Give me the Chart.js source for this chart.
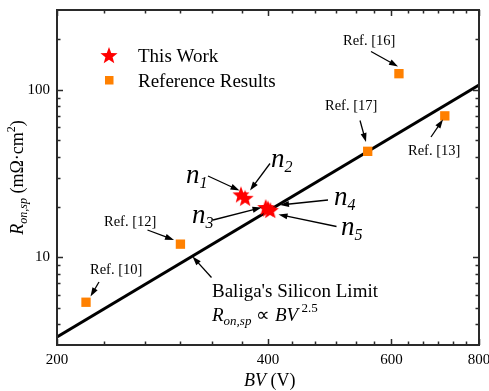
<!DOCTYPE html>
<html>
<head>
<meta charset="utf-8">
<script src="https://cdn.jsdelivr.net/npm/chart.js@4.4.1/dist/chart.umd.min.js"></script>
<style>
  body { margin: 0; background: #fff; }
  #wrap { width: 489px; height: 391px; }
</style>
</head>
<body>
<div id="wrap"><canvas id="ronChart" width="489" height="391"></canvas></div>
<script>
// Données : Ron,sp en fonction de la tension de claquage BV
const bvWork = [366, 371, 397, 400, 403];
const ronWork = [23.8, 22.7, 20.0, 19.6, 19.2];

const bvRef = [220, 300, 555, 615, 715];
const ronRef = [5.4, 12, 43, 125, 70];

// Limite silicium de Baliga (Ron,sp ∝ BV^2.5), extrémités de la droite
const limitBV = [200, 800];
const limitRon = [3.35, 107];

// Graduations des axes
const xMajor = [200, 400, 600, 800];
const yMajor = [10, 100];
const xMinor = [];
for (let v = 200; v < 800; v += 200) {
    for (let k = 1; k < 6; k++) xMinor.push(v + k * 200 / 6);
}
const yMinor = [4, 5, 6, 7, 8, 9, 20, 30, 40, 50, 60, 70, 80, 90, 200];

const SERIF = "'Liberation Serif', 'Times New Roman', serif";
const RED = '#FF0000';
const ORANGE = '#FF8000';

// Étoile pleine à 5 branches utilisée comme pointStyle
function makeStar(r) {
    const c = document.createElement('canvas');
    const s = Math.ceil(r * 2 + 2);
    c.width = c.height = s;
    const g = c.getContext('2d');
    g.beginPath();
    for (let i = 0; i < 10; i++) {
        const rad = i % 2 ? r * 0.42 : r;
        const a = -Math.PI / 2 + i * Math.PI / 5;
        g.lineTo(s / 2 + rad * Math.cos(a), s / 2 + 1 + rad * Math.sin(a));
    }
    g.closePath();
    g.fillStyle = RED;
    g.fill();
    return c;
}
const starImg = makeStar(9);

function toXY(xs, ys) {
    return xs.map((x, i) => ({ x: x, y: ys[i] }));
}

// Texte avec indices / exposants
function drawRich(ctx, x, y, parts) {
    let cx = x;
    parts.forEach(p => {
        ctx.font = (p.italic ? 'italic ' : '') + p.size + 'px ' + SERIF;
        ctx.fillText(p.t, cx + (p.dx || 0), y + (p.dy || 0));
        cx += ctx.measureText(p.t).width + (p.dx || 0);
    });
    return cx - x;
}
function richWidth(ctx, parts) {
    let w = 0;
    parts.forEach(p => {
        ctx.font = (p.italic ? 'italic ' : '') + p.size + 'px ' + SERIF;
        w += ctx.measureText(p.t).width + (p.dx || 0);
    });
    return w;
}

function arrow(ctx, x1, y1, x2, y2) {
    const a = Math.atan2(y2 - y1, x2 - x1);
    const L = 9, W = 3;
    ctx.beginPath();
    ctx.moveTo(x1, y1);
    ctx.lineTo(x2 - L * 0.8 * Math.cos(a), y2 - L * 0.8 * Math.sin(a));
    ctx.stroke();
    ctx.beginPath();
    ctx.moveTo(x2, y2);
    ctx.lineTo(x2 - L * Math.cos(a) + W * Math.sin(a), y2 - L * Math.sin(a) - W * Math.cos(a));
    ctx.lineTo(x2 - L * Math.cos(a) - W * Math.sin(a), y2 - L * Math.sin(a) + W * Math.cos(a));
    ctx.closePath();
    ctx.fill();
}

// Cadre, graduations internes, légende et annotations
const decorPlugin = {
    id: 'decor',
    afterDraw(chart) {
        const ctx = chart.ctx;
        const area = chart.chartArea;
        const xs = chart.scales.x, ys = chart.scales.y;
        ctx.save();

        // cadre
        ctx.strokeStyle = '#2a2a2a';
        ctx.lineWidth = 2;
        ctx.strokeRect(area.left, area.top, area.right - area.left, area.bottom - area.top);

        // graduations vers l'intérieur sur les 4 côtés
        ctx.lineWidth = 1.5;
        const tickX = (v, len) => {
            const px = Math.round(xs.getPixelForValue(v)) + 0.5;
            ctx.beginPath();
            ctx.moveTo(px, area.bottom); ctx.lineTo(px, area.bottom - len);
            ctx.moveTo(px, area.top); ctx.lineTo(px, area.top + len);
            ctx.stroke();
        };
        const tickY = (v, len) => {
            const py = Math.round(ys.getPixelForValue(v)) + 0.5;
            ctx.beginPath();
            ctx.moveTo(area.left, py); ctx.lineTo(area.left + len, py);
            ctx.moveTo(area.right, py); ctx.lineTo(area.right - len, py);
            ctx.stroke();
        };
        xMajor.forEach(v => tickX(v, 6));
        xMinor.forEach(v => tickX(v, 3.5));
        yMajor.forEach(v => tickY(v, 6));
        yMinor.forEach(v => tickY(v, 3.5));

        ctx.fillStyle = '#000';
        ctx.strokeStyle = '#000';
        ctx.textBaseline = 'alphabetic';
        ctx.textAlign = 'left';

        // légende
        ctx.drawImage(starImg, 109 - starImg.width / 2, 55 - starImg.height / 2);
        ctx.fillStyle = ORANGE;
        ctx.fillRect(105, 76, 8.5, 8.5);
        ctx.fillStyle = '#000';
        ctx.font = '19px ' + SERIF;
        ctx.fillText('This Work', 138, 62);
        ctx.fillText('Reference Results', 138, 87);

        // titres des axes
        drawRich(ctx, 244, 386, [
            { t: 'BV', size: 18, italic: true },
            { t: ' (V)', size: 18 }
        ]);
        const yTitle = [
            { t: 'R', size: 18, italic: true },
            { t: 'on,sp', size: 12, italic: true, dy: 4 },
            { t: ' (mΩ·cm', size: 18 },
            { t: '2', size: 12, dy: -8 },
            { t: ')', size: 18 }
        ];
        ctx.save();
        ctx.translate(23, (area.top + area.bottom) / 2);
        ctx.rotate(-Math.PI / 2);
        drawRich(ctx, -richWidth(ctx, yTitle) / 2, 0, yTitle);
        ctx.restore();

        // références
        ctx.lineWidth = 1.3;
        ctx.font = '14.5px ' + SERIF;
        ctx.fillText('Ref. [16]', 343, 44.5);
        arrow(ctx, 371, 51.5, 398, 66.5);
        ctx.fillText('Ref. [17]', 325, 109.5);
        arrow(ctx, 360, 120.5, 366, 142);
        ctx.fillText('Ref. [13]', 408, 154.5);
        arrow(ctx, 431, 137, 443, 119.5);
        ctx.fillText('Ref. [12]', 104, 226);
        arrow(ctx, 147.5, 230, 174, 240);
        ctx.fillText('Ref. [10]', 90, 274);
        arrow(ctx, 99, 282, 90.5, 296.5);

        // points de ce travail
        const nLabel = (x, y, sub) => drawRich(ctx, x, y, [
            { t: 'n', size: 27, italic: true },
            { t: sub, size: 16, italic: true, dy: 5, dx: 0 }
        ]);
        nLabel(186, 183, '1');
        arrow(ctx, 208, 176, 239.5, 190.5);
        nLabel(271, 166.5, '2');
        arrow(ctx, 270, 163.5, 250, 190.5);
        nLabel(192, 223, '3');
        arrow(ctx, 213, 220, 261.5, 207.5);
        nLabel(334, 205, '4');
        arrow(ctx, 328, 200, 280, 205);
        nLabel(341, 235, '5');
        arrow(ctx, 336.5, 226.5, 278.5, 214.5);

        // limite de Baliga
        arrow(ctx, 211.5, 277.5, 192.5, 256.5);
        ctx.font = '19px ' + SERIF;
        ctx.fillText("Baliga's Silicon Limit", 212, 297);
        drawRich(ctx, 212, 321, [
            { t: 'R', size: 19, italic: true },
            { t: 'on,sp', size: 13, italic: true, dy: 4 },
            { t: ' ∝ ', size: 19 },
            { t: 'BV', size: 19, italic: true },
            { t: ' 2.5', size: 13, dy: -9 }
        ]);

        ctx.restore();
    }
};

const ronChart = new Chart(document.getElementById('ronChart'), {
    type: 'scatter',
    data: {
        datasets: [
            {
                label: 'This Work',
                data: toXY(bvWork, ronWork),
                pointStyle: starImg,
                pointRadius: 9,
                order: 0
            },
            {
                label: 'Reference Results',
                data: toXY(bvRef, ronRef),
                pointStyle: 'rect',
                pointRadius: 6.6,
                backgroundColor: ORANGE,
                borderWidth: 0,
                order: 1
            },
            {
                label: "Baliga's Silicon Limit",
                data: toXY(limitBV, limitRon),
                showLine: true,
                borderColor: '#000',
                borderWidth: 3,
                pointRadius: 0,
                order: 2
            }
        ]
    },
    options: {
        responsive: false,
        animation: false,
        layout: { padding: { left: 0, right: 9, top: 5, bottom: 0 } },
        plugins: {
            legend: { display: false },
            tooltip: { enabled: false }
        },
        scales: {
            x: {
                type: 'logarithmic',
                min: 200,
                max: 800,
                grid: { display: false, drawTicks: false },
                border: { display: false },
                afterBuildTicks: s => { s.ticks = xMajor.map(v => ({ value: v })); },
                afterFit: s => { s.height = 46; s.paddingLeft = 0; s.paddingRight = 0; },
                ticks: {
                    autoSkip: false,
                    maxRotation: 0,
                    padding: 6,
                    color: '#000',
                    font: { family: SERIF, size: 15 },
                    callback: v => String(v)
                }
            },
            y: {
                type: 'logarithmic',
                min: 3,
                max: 300,
                grid: { display: false, drawTicks: false },
                border: { display: false },
                afterBuildTicks: s => { s.ticks = yMajor.map(v => ({ value: v })); },
                afterFit: s => { s.width = 57; s.paddingTop = 0; s.paddingBottom = 0; },
                ticks: {
                    autoSkip: false,
                    padding: 7,
                    color: '#000',
                    font: { family: SERIF, size: 15 },
                    callback: v => String(v)
                }
            }
        }
    },
    plugins: [decorPlugin]
});
</script>
</body>
</html>
